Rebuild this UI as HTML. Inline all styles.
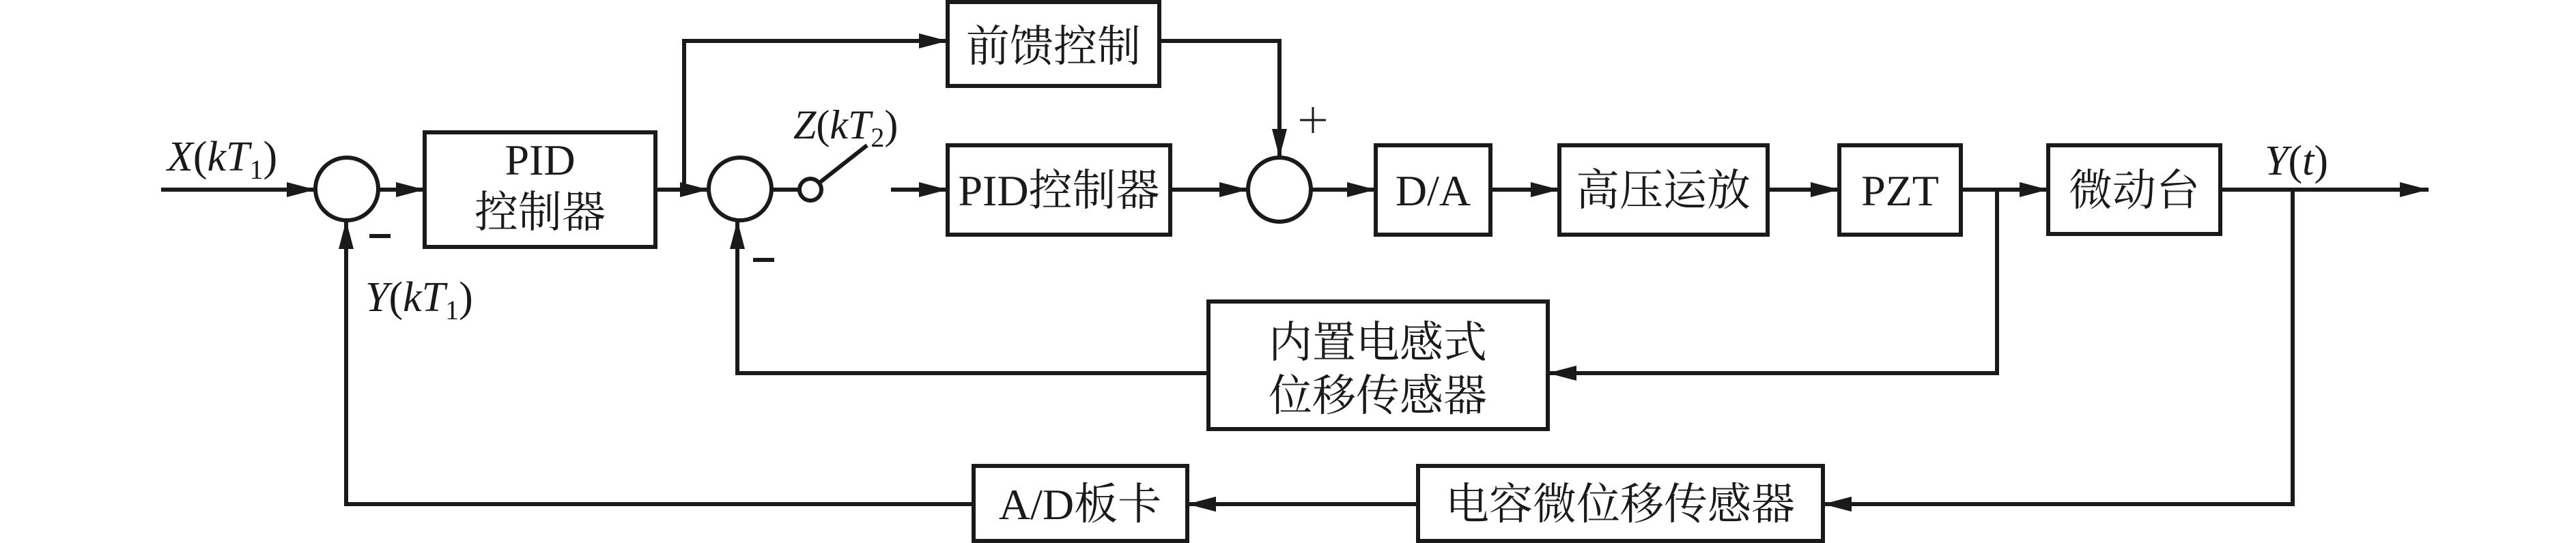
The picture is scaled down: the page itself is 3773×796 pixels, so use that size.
<!DOCTYPE html>
<html><head><meta charset="utf-8"><style>
html,body{margin:0;padding:0;background:#fff;}
svg{display:block;}
text{font-family:"Liberation Serif","Noto Serif CJK SC",serif;fill:#1a1a1a;}
.cn{font-family:"Liberation Serif","Noto Serif CJK SC",serif;}
.it{font-style:italic;}
</style></head><body>
<svg width="3773" height="796" viewBox="0 0 3773 796" xmlns="http://www.w3.org/2000/svg">
<defs>
<marker id="a" markerWidth="42" markerHeight="22" refX="42" refY="11" orient="auto" markerUnits="userSpaceOnUse">
<path d="M0,0 L42,11 L0,22 Z" fill="#1a1a1a"/>
</marker>
</defs>
<g stroke="#1a1a1a" stroke-width="6" fill="none">
<!-- boxes -->
<rect x="622" y="194" width="338" height="168"/>
<rect x="1388" y="3" width="310" height="123"/>
<rect x="1388" y="213" width="326" height="131"/>
<rect x="2015" y="213" width="168" height="131"/>
<rect x="2284" y="213" width="305" height="131"/>
<rect x="2694" y="213" width="178" height="131"/>
<rect x="3000" y="213" width="252" height="130"/>
<rect x="1770" y="442" width="497" height="187"/>
<rect x="1426" y="683" width="313" height="110"/>
<rect x="2077" y="683" width="593" height="110"/>
<!-- circles -->
<ellipse cx="508" cy="277" rx="46" ry="46"/>
<ellipse cx="1084" cy="277" rx="46" ry="46"/>
<ellipse cx="1874" cy="278" rx="46" ry="47"/>
<circle cx="1187" cy="278" r="16"/>
<!-- main path -->
<line x1="236" y1="278" x2="462" y2="278" marker-end="url(#a)"/>
<line x1="554" y1="278" x2="622" y2="278" marker-end="url(#a)"/>
<line x1="960" y1="278" x2="1038" y2="278" marker-end="url(#a)"/>
<line x1="1130" y1="278" x2="1171" y2="278"/>
<line x1="1200" y1="268" x2="1270" y2="213"/>
<line x1="1305" y1="278" x2="1388" y2="278" marker-end="url(#a)"/>
<line x1="1714" y1="278" x2="1828" y2="278" marker-end="url(#a)"/>
<line x1="1920" y1="278" x2="2015" y2="278" marker-end="url(#a)"/>
<line x1="2183" y1="278" x2="2284" y2="278" marker-end="url(#a)"/>
<line x1="2589" y1="278" x2="2694" y2="278" marker-end="url(#a)"/>
<line x1="2872" y1="278" x2="3000" y2="278" marker-end="url(#a)"/>
<line x1="3252" y1="278" x2="3557" y2="278" marker-end="url(#a)"/>
<!-- feedforward -->
<polyline points="1002,278 1002,60 1388,60" marker-end="url(#a)"/>
<polyline points="1698,60 1874,60 1874,231" marker-end="url(#a)"/>
<!-- inner feedback -->
<polyline points="2925,278 2925,547 2267,547" marker-end="url(#a)"/>
<polyline points="1770,547 1080,547 1080,323" marker-end="url(#a)"/>
<!-- outer feedback -->
<polyline points="3358,278 3358,739 2670,739" marker-end="url(#a)"/>
<line x1="2077" y1="739" x2="1739" y2="739" marker-end="url(#a)"/>
<polyline points="1426,739 507,739 507,323" marker-end="url(#a)"/>
<!-- signs -->
<line x1="541" y1="346" x2="572" y2="346"/>
<line x1="1103" y1="381" x2="1134" y2="381"/>
<line x1="1904" y1="176" x2="1942" y2="176" stroke-width="3"/>
<line x1="1923" y1="157" x2="1923" y2="195" stroke-width="3"/>
</g>
<!-- labels -->
<text x="791" y="256" font-size="64" text-anchor="middle">PID</text>
<text x="791" y="333" font-size="64" text-anchor="middle" class="cn">控制器</text>
<text x="1543" y="90" font-size="64" text-anchor="middle" class="cn">前馈控制</text>
<text x="1551" y="301" font-size="64" text-anchor="middle" class="cn">PID控制器</text>
<text x="2099" y="301" font-size="64" text-anchor="middle">D/A</text>
<text x="2436" y="301" font-size="64" text-anchor="middle" class="cn">高压运放</text>
<text x="2783" y="301" font-size="64" text-anchor="middle">PZT</text>
<text x="3126" y="301" font-size="64" text-anchor="middle" class="cn">微动台</text>
<text x="2018" y="524" font-size="64" text-anchor="middle" class="cn">内置电感式</text>
<text x="2018" y="602" font-size="64" text-anchor="middle" class="cn">位移传感器</text>
<text x="1582" y="761" font-size="64" text-anchor="middle" class="cn">A/D板卡</text>
<text x="2373" y="761" font-size="64" text-anchor="middle" class="cn">电容微位移传感器</text>
<text x="245" y="250" font-size="62"><tspan class="it">X</tspan>(<tspan class="it">kT</tspan><tspan font-size="40" dy="12">1</tspan><tspan dy="-12">)</tspan></text>
<text x="535" y="456" font-size="62"><tspan class="it">Y</tspan>(<tspan class="it">kT</tspan><tspan font-size="40" dy="12">1</tspan><tspan dy="-12">)</tspan></text>
<text x="1162" y="203" font-size="60"><tspan class="it">Z</tspan>(<tspan class="it">kT</tspan><tspan font-size="40" dy="12">2</tspan><tspan dy="-12">)</tspan></text>
<text x="3317" y="256" font-size="62"><tspan class="it">Y</tspan>(<tspan class="it">t</tspan>)</text>
</svg>
</body></html>
